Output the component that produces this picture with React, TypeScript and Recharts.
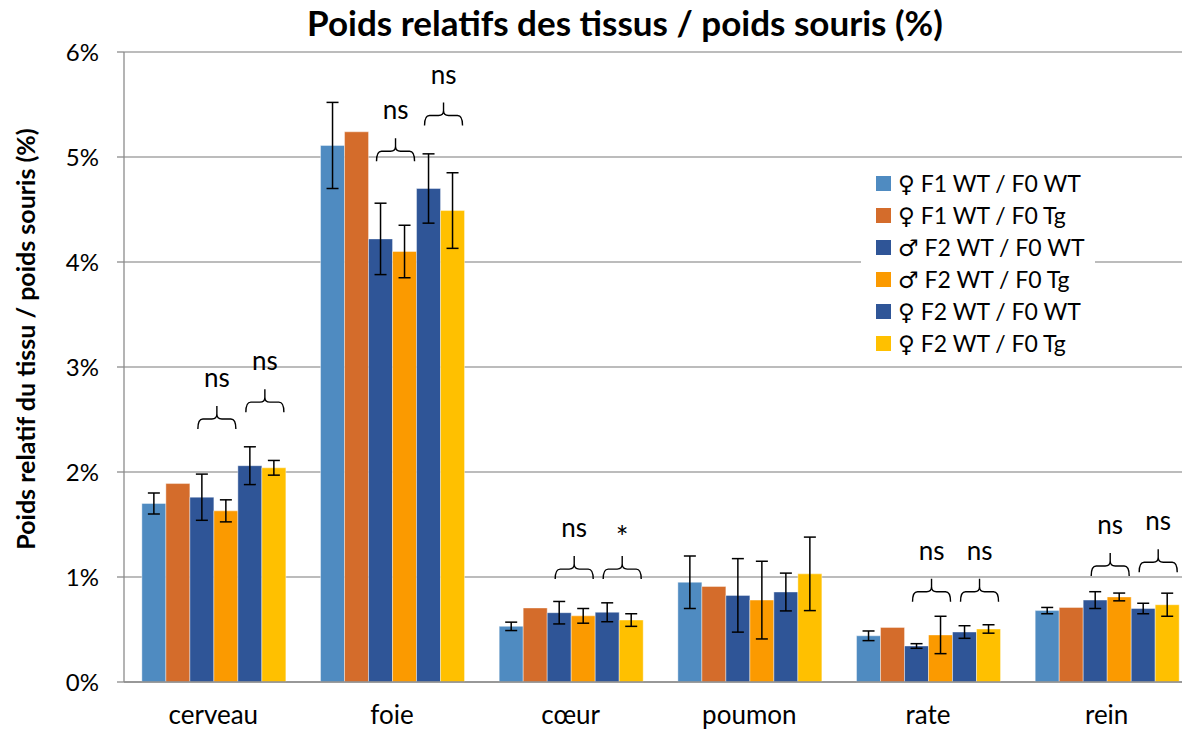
import { BarChart, Bar, XAxis, YAxis, CartesianGrid, ErrorBar, Legend, LabelList } from 'recharts'

// tissues
const categories = ['cerveau', 'foie', 'cœur', 'poumon', 'rate', 'rein']

// series names, in legend order
const seriesNames = ['♀ F1 WT / F0 WT', '♀ F1 WT / F0 Tg', '♂ F2 WT / F0 WT', '♂ F2 WT / F0 Tg', '♀ F2 WT / F0 WT', '♀ F2 WT / F0 Tg']

// relative weights (%)
const f1WT = [1.7, 5.11, 0.53, 0.95, 0.44, 0.68]
const f1Tg = [1.89, 5.24, 0.705, 0.91, 0.52, 0.71]
const m2WT = [1.76, 4.22, 0.66, 0.825, 0.343, 0.78]
const m2Tg = [1.63, 4.1, 0.63, 0.78, 0.448, 0.81]
const f2WT = [2.06, 4.7, 0.664, 0.857, 0.476, 0.7]
const f2Tg = [2.04, 4.49, 0.59, 1.03, 0.505, 0.736]

// error bars (%), F1 Tg has none
const f1WTErr = [0.1, 0.41, 0.04, 0.25, 0.046, 0.03]
const m2WTErr = [0.22, 0.34, 0.107, 0.35, 0.022, 0.08]
const m2TgErr = [0.105, 0.25, 0.07, 0.37, 0.178, 0.037]
const f2WTErr = [0.18, 0.33, 0.09, 0.18, 0.06, 0.05]
const f2TgErr = [0.07, 0.36, 0.06, 0.35, 0.04, 0.11]

// significance braces: level (%) of the brace tips and label
const maleBraceLevel = [2.41, 4.96, 0.98, null, 0.765, 1.01]
const maleBraceLabel = ['ns', 'ns', 'ns', null, 'ns', 'ns']
const femaleBraceLevel = [2.57, 5.3, 0.98, null, 0.765, 1.045]
const femaleBraceLabel = ['ns', 'ns', '*', null, 'ns', 'ns']

const yTicks = [0, 1, 2, 3, 4, 5, 6]
const sepTicks = [0, 1, 2, 3, 4, 5, 6]

const data = categories.map((name, i) => ({
  name,
  f1WT: f1WT[i],
  f1Tg: f1Tg[i],
  m2WT: m2WT[i],
  m2Tg: m2Tg[i],
  f2WT: f2WT[i],
  f2Tg: f2Tg[i],
  f1WTErr: f1WTErr[i],
  m2WTErr: m2WTErr[i],
  m2TgErr: m2TgErr[i],
  f2WTErr: f2WTErr[i],
  f2TgErr: f2TgErr[i],
}))

const FONT = 'Lato, "DejaVu Sans", sans-serif'
const AXIS = '#8c8c8c'

// brace drawn over this bar and the next one, scaled from the bar's own geometry
const makeBrace = (values: number[], levels: (number | null)[], labels: (string | null)[]) =>
  (props: any) => {
    const i = props.index
    const level = levels[i]
    const vb = props.viewBox || props
    if (level == null || !vb || !vb.height) return null
    const base = vb.y + vb.height
    const yTip = base - (level * vb.height) / values[i]
    const x1 = vb.x + 8
    const x2 = vb.x + vb.width * 2 - 2
    const xc = (x1 + x2) / 2
    const yMid = yTip - 10
    const yPeak = yTip - 23
    const d = `M${x1},${yTip} Q${x1},${yMid} ${x1 + 5},${yMid} L${xc - 5},${yMid} Q${xc},${yMid} ${xc},${yMid - 5} L${xc},${yPeak} M${xc},${yMid - 5} Q${xc},${yMid} ${xc + 5},${yMid} L${x2 - 5},${yMid} Q${x2},${yMid} ${x2},${yTip}`
    const star = labels[i] === '*'
    return (
      <g>
        <path d={d} fill="none" stroke="#000" strokeWidth={1.4} />
        <text x={xc} y={yTip - (star ? 31 : 42)} textAnchor="middle" fontSize={star ? 30 : 26} fontFamily={FONT} fill="#000">
          {labels[i]}
        </text>
      </g>
    )
  }

const renderLegend = (props: any) => {
  const items = [...(props.payload || [])].sort(
    (a: any, b: any) => seriesNames.indexOf(a.value) - seriesNames.indexOf(b.value))
  return (
    <div style={{ background: '#fff', padding: '4px 0 4px 15px', fontFamily: FONT, fontSize: 23, color: '#000' }}>
      {items.map((e: any) => (
        <div key={e.value} style={{ display: 'flex', alignItems: 'center', height: 32 }}>
          <span style={{ width: 15, height: 15, background: e.color, marginRight: 7, display: 'inline-block' }} />
          <span>{e.value}</span>
        </div>
      ))}
    </div>
  )
}

const YLabel = (props: any) => {
  const vb = props.viewBox
  const cx = vb.x - 15
  const cy = vb.y + vb.height / 2 - 28
  return (
    <text x={cx} y={cy} transform={`rotate(-90, ${cx}, ${cy})`} textAnchor="middle" dominantBaseline="central"
      fontSize={25} fontWeight="bold" fontFamily={FONT} fill="#000">
      Poids relatif du tissu / poids souris (%)
    </text>
  )
}

const barStroke = { stroke: '#ffffff', strokeOpacity: 0.4, strokeWidth: 1 }

export default function App() {
  return (
    <div style={{ position: 'fixed', left: 0, top: 0, width: 1182, height: 730, overflow: 'hidden', background: '#fff' }}>
      <div style={{ position: 'absolute', top: 2, left: 225, width: 800, textAlign: 'center', fontFamily: FONT,
        fontWeight: 'bold', fontSize: 35, lineHeight: '40px', color: '#000', zIndex: 2 }}>
        Poids relatifs des tissus / poids souris (%)
      </div>
      <BarChart width={1200} height={730} data={data} margin={{ top: 52, right: 4, bottom: 8, left: 40 }}
        barCategoryGap="10%" barGap={0}>
        <CartesianGrid xAxisId="cat" vertical={false} stroke="#a6a6a6" strokeWidth={1.3} />
        <XAxis xAxisId="sep" type="number" domain={[0, 6]} ticks={sepTicks} tick={false} tickSize={9}
          axisLine={false} height={0} tickLine={{ stroke: AXIS, strokeWidth: 1.3 }} />
        <XAxis xAxisId="cat" dataKey="name" interval={0} tickLine={false} tickSize={0} tickMargin={24} height={40}
          axisLine={{ stroke: AXIS, strokeWidth: 1.3 }} tick={{ fill: '#000', fontSize: 26, fontFamily: FONT }} />
        <YAxis domain={[0, 6]} ticks={yTicks} tickFormatter={(v: number) => `${v}%`} width={84} tickSize={7}
          tickMargin={18} axisLine={{ stroke: AXIS, strokeWidth: 1.3 }} tickLine={{ stroke: AXIS, strokeWidth: 1.3 }}
          tick={{ fill: '#000', fontSize: 24, fontFamily: FONT }} label={<YLabel />} />
        <Legend content={renderLegend} layout="vertical" align="center" verticalAlign="middle" itemSorter={null as any}
          wrapperStyle={{ top: 163, left: 861, width: 234, height: 'auto' }} />
        <Bar xAxisId="cat" dataKey="f1WT" name={seriesNames[0]} fill="#4F8BC1" {...barStroke} isAnimationActive={false}>
          <ErrorBar dataKey="f1WTErr" direction="y" width={6} stroke="#000" strokeWidth={1.5} />
        </Bar>
        <Bar xAxisId="cat" dataKey="f1Tg" name={seriesNames[1]} fill="#D46C2B" {...barStroke} isAnimationActive={false} />
        <Bar xAxisId="cat" dataKey="m2WT" name={seriesNames[2]} fill="#2F5597" {...barStroke} isAnimationActive={false}>
          <ErrorBar dataKey="m2WTErr" direction="y" width={6} stroke="#000" strokeWidth={1.5} />
          <LabelList dataKey="m2WT" content={makeBrace(m2WT, maleBraceLevel, maleBraceLabel)} />
        </Bar>
        <Bar xAxisId="cat" dataKey="m2Tg" name={seriesNames[3]} fill="#FB9A00" {...barStroke} isAnimationActive={false}>
          <ErrorBar dataKey="m2TgErr" direction="y" width={6} stroke="#000" strokeWidth={1.5} />
        </Bar>
        <Bar xAxisId="cat" dataKey="f2WT" name={seriesNames[4]} fill="#2F5597" {...barStroke} isAnimationActive={false}>
          <ErrorBar dataKey="f2WTErr" direction="y" width={6} stroke="#000" strokeWidth={1.5} />
          <LabelList dataKey="f2WT" content={makeBrace(f2WT, femaleBraceLevel, femaleBraceLabel)} />
        </Bar>
        <Bar xAxisId="cat" dataKey="f2Tg" name={seriesNames[5]} fill="#FFC000" {...barStroke} isAnimationActive={false}>
          <ErrorBar dataKey="f2TgErr" direction="y" width={6} stroke="#000" strokeWidth={1.5} />
        </Bar>
      </BarChart>
    </div>
  )
}
